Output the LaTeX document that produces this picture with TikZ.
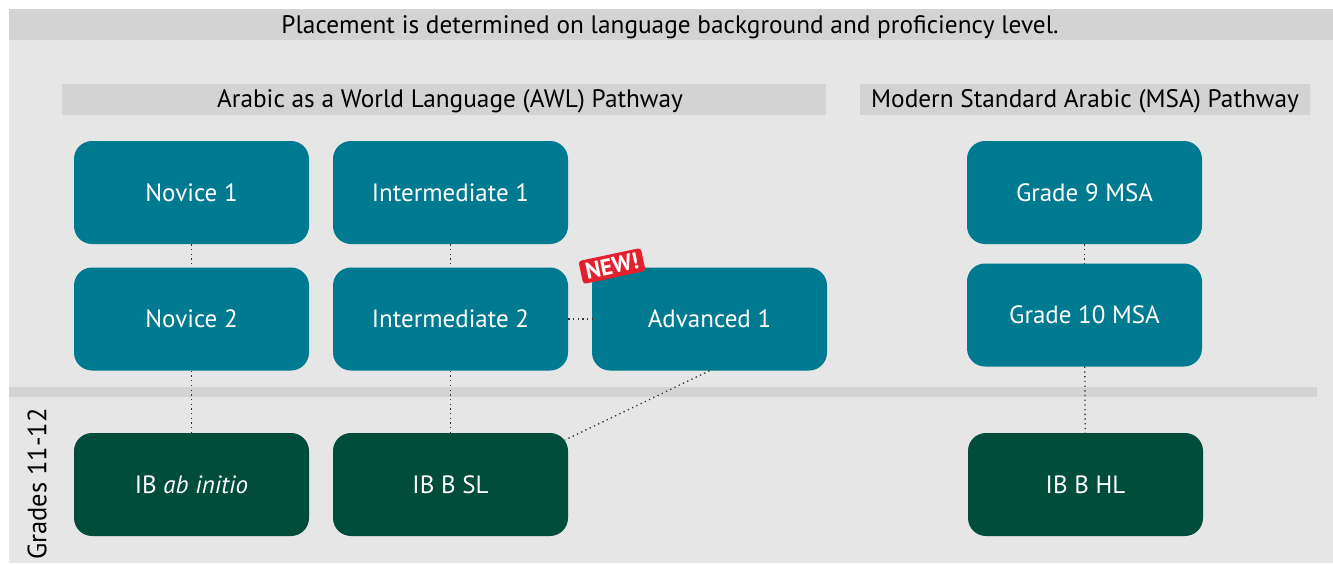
\documentclass[tikz,border=0pt]{standalone}
\usepackage{fontspec}
\setmainfont{PT Sans}
\definecolor{bgc}{HTML}{E6E6E6}
\definecolor{barc}{HTML}{D3D3D3}
\definecolor{tealc}{HTML}{007A91}
\definecolor{greenc}{HTML}{004D3B}
\definecolor{redc}{HTML}{E3202E}
\definecolor{dotc}{HTML}{333333}
\begin{document}
\begin{tikzpicture}[x=1pt,y=-1pt,
  box/.style={rounded corners=18pt, minimum width=235pt, minimum height=103pt, inner sep=0pt, text=white, font=\fontsize{25}{29}\selectfont},
  course/.style={box, fill=tealc},
  ibbox/.style={box, fill=greenc},
  link/.style={draw=dotc, line width=1.3pt, dash pattern=on 1.3pt off 3.4pt},
  bartext/.style={font=\fontsize{25.3}{29}\selectfont, text=black}]
\useasboundingbox (0,0) rectangle (1333,563);
\fill[white] (0,0) rectangle (1333,563);
\fill[bgc] (9,9) rectangle (1333,563);
\fill[barc] (9,9) rectangle (1333,40);
\node[bartext] (title) at (670,27) {Placement is determined on language background and proficiency level.};
\fill[barc] (62,84) rectangle (826,115);
\node[bartext] (awl) at (450,101.5) {Arabic as a World Language (AWL) Pathway};
\fill[barc] (860,84) rectangle (1310,115);
\node[bartext] (msa) at (1085,101.5) {Modern Standard Arabic (MSA) Pathway};
\fill[barc] (9,387) rectangle (1317,397);
\node[bartext, font=\fontsize{26.5}{30}\selectfont, rotate=90] (grades) at (37,484) {Grades 11-12};

\node[course] (nov1) at (191.5,192.5) {Novice 1};
\node[course] (int1) at (450.5,192.5) {Intermediate 1};
\node[course] (nov2) at (191.5,319) {Novice 2};
\node[course] (int2) at (450.5,319) {Intermediate 2};
\node[course] (adv1) at (709.5,319) {Advanced 1};
\node[course] (g9) at (1084.5,192.5) {Grade 9 MSA};
\node[course] (g10) at (1084.5,315) {Grade 10 MSA};
\node[ibbox] (ibab) at (191.5,484.5) {IB \textit{ab initio}};
\node[ibbox] (ibsl) at (450.5,484.5) {IB B SL};
\node[ibbox] (ibhl) at (1085.5,484.5) {IB B HL};

\node[fill=redc, text=white, rounded corners=3pt, rotate=12, inner xsep=5pt, inner ysep=3.5pt, font=\fontsize{23}{26}\selectfont\bfseries] (new) at (612,266) {NEW!};

\draw[link] (nov1) -- (nov2);
\draw[link] (int1) -- (int2);
\draw[link] (nov2) -- (ibab);
\draw[link] (int2) -- (ibsl);
\draw[link] (int2) -- (adv1);
\draw[link] (g9) -- (g10);
\draw[link] (g10) -- (ibhl);
\coordinate (slc) at (565,440);
\draw[link] (adv1.south) -- (slc);
\end{tikzpicture}
\end{document}
